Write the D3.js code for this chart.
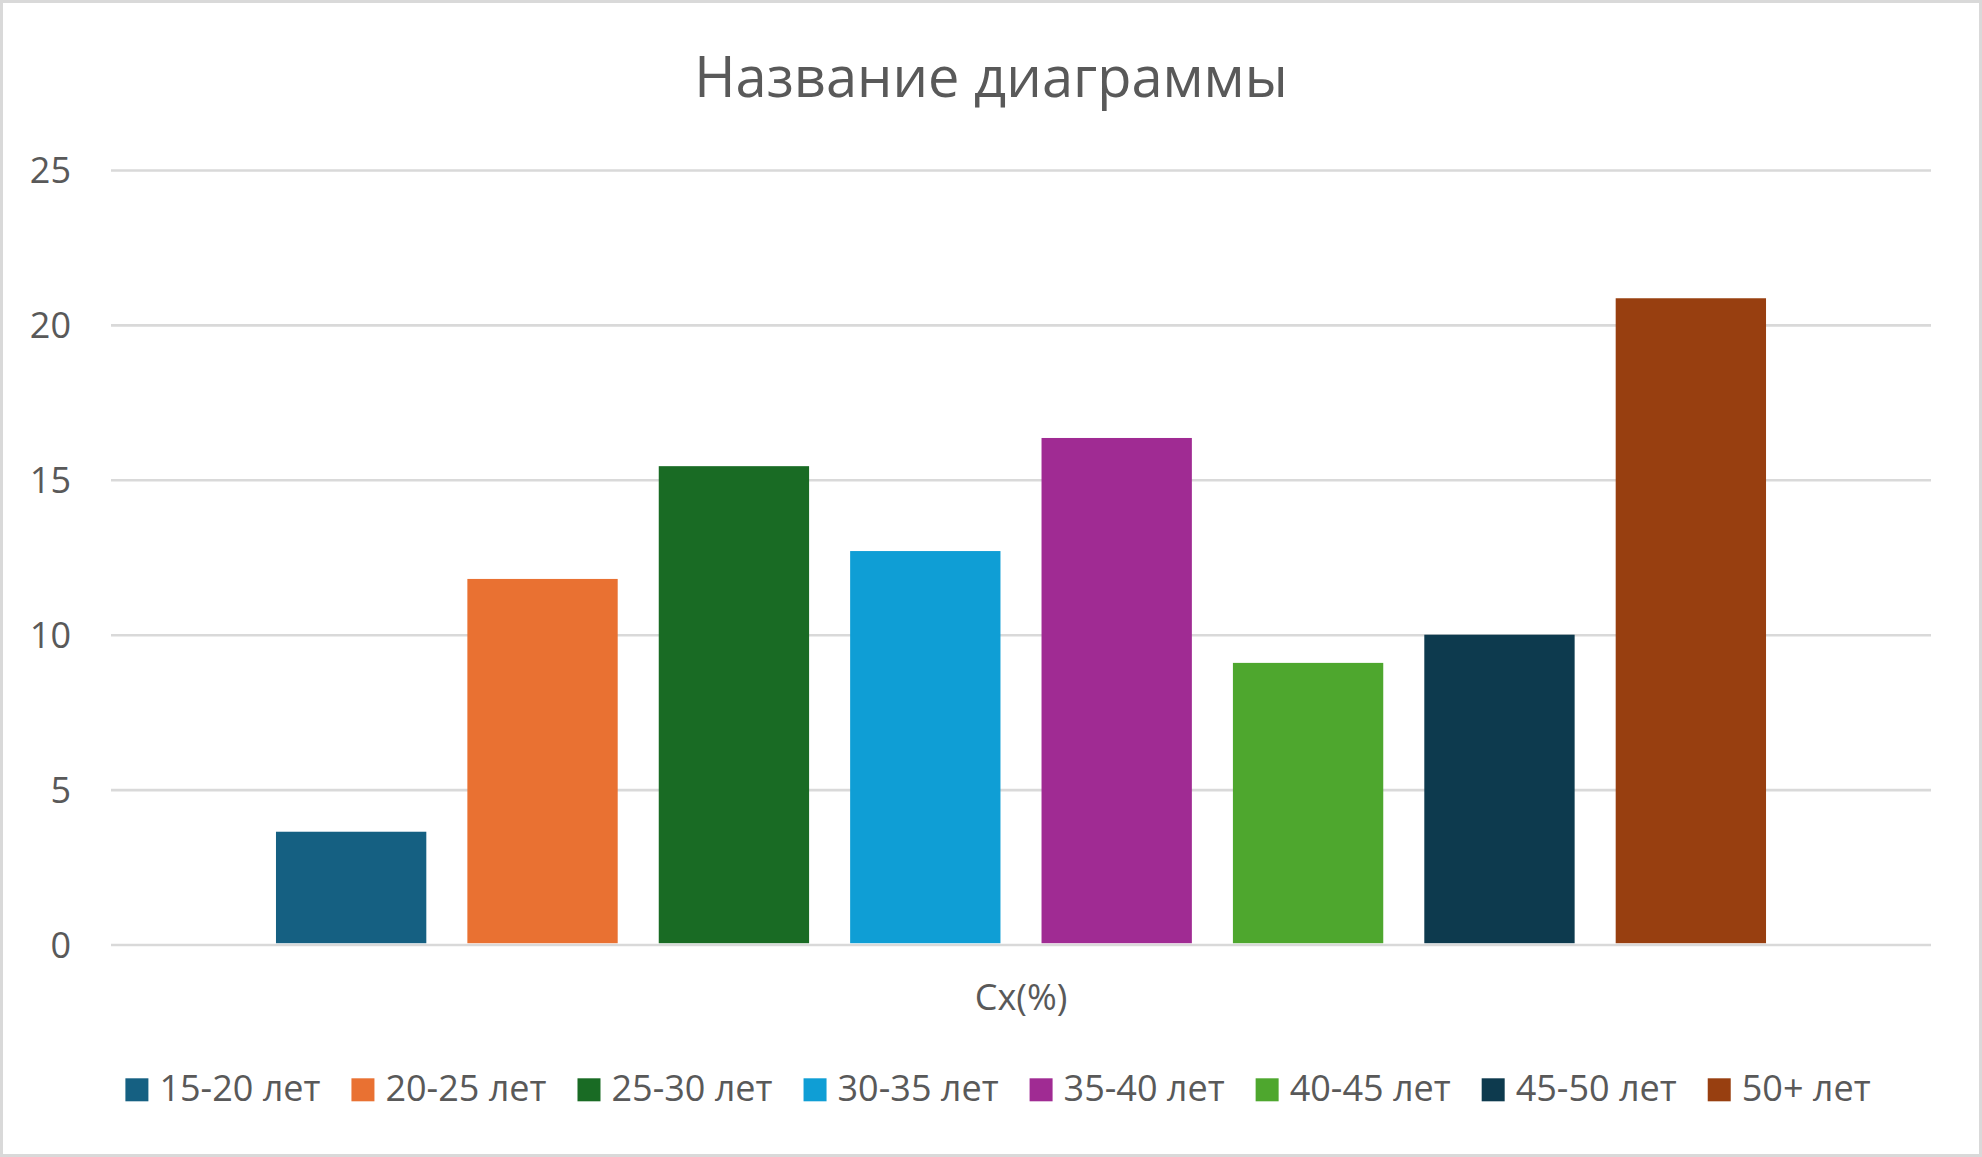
<!DOCTYPE html>
<html>
<head>
<meta charset="utf-8">
<script src="https://cdn.jsdelivr.net/npm/d3@7"></script>
<style>
  html, body { margin: 0; padding: 0; background: #fff; }
  svg { display: block; }
  text { font-family: "Open Sans", "Noto Sans", sans-serif; fill: #595959; }
</style>
</head>
<body>
<svg id="chart" width="1982" height="1157"></svg>
<script>
// ---- data ----
const title = "Название диаграммы";
const categories = ["Сх(%)"];
const series = ["15-20 лет", "20-25 лет", "25-30 лет", "30-35 лет", "35-40 лет", "40-45 лет", "45-50 лет", "50+ лет"];
const values = [3.64, 11.8, 15.44, 12.7, 16.35, 9.09, 10.0, 20.86];
const colors = ["#156082", "#E97132", "#196B24", "#0F9ED5", "#A02B93", "#4EA72E", "#0D3A4E", "#983F10"];
const yTicks = [0, 5, 10, 15, 20, 25];

// ---- layout ----
const W = 1982, H = 1157;
const plot = { left: 111, right: 1931, top: 170, bottom: 944.5 };
const svg = d3.select("#chart");

svg.append("rect")
  .attr("x", 1.5).attr("y", 1.5)
  .attr("width", W - 3).attr("height", H - 3)
  .attr("fill", "#fff").attr("stroke", "#d9d9d9").attr("stroke-width", 3);

const y = d3.scaleLinear().domain([0, 25]).range([plot.bottom, plot.top]);
const x0 = d3.scaleBand().domain(categories).range([plot.left, plot.right]).padding(0);
const x1 = d3.scaleBand().domain(series)
  .range([x0(categories[0]), x0(categories[0]) + x0.bandwidth()])
  .paddingInner(0.2145).paddingOuter(0.862);

// title
svg.append("text")
  .attr("x", W / 2).attr("y", 96.5)
  .attr("text-anchor", "middle")
  .style("font-size", "56px")
  .text(title);

// y axis with gridlines
const yAxis = d3.axisLeft(y).tickValues(yTicks).tickSize(-(plot.right - plot.left)).tickPadding(40);
const gy = svg.append("g").attr("transform", `translate(${plot.left},0)`).call(yAxis);
gy.select(".domain").remove();
gy.selectAll(".tick line").attr("stroke", "#d9d9d9").attr("stroke-width", 2.6);
gy.selectAll(".tick text").style("font-size", "36px").attr("fill", "#595959")
  .attr("dy", "0.35em");

// bars
svg.append("g").selectAll("rect")
  .data(series.map((s, i) => ({ s, v: values[i], c: colors[i] })))
  .join("rect")
  .attr("x", d => x1(d.s))
  .attr("y", d => y(d.v))
  .attr("width", x1.bandwidth())
  .attr("height", d => y(0) - y(d.v) - 1.3)
  .attr("fill", d => d.c);

// x axis (category label)
const xAxis = d3.axisBottom(x0).tickSize(0).tickPadding(0);
const gx = svg.append("g").attr("transform", `translate(0,${plot.bottom})`).call(xAxis);
gx.select(".domain").remove();
gx.selectAll(".tick text").attr("y", 65.5).attr("dy", null)
  .style("font-size", "36px").attr("fill", "#595959");

// legend
const lg = svg.append("g");
const sq = 23, gapSq = 11, gapItem = 31;
const items = lg.selectAll("g").data(series).join("g");
items.append("rect").attr("width", sq).attr("height", sq).attr("y", 1078.3)
  .attr("fill", (d, i) => colors[i]);
items.append("text").attr("x", sq + gapSq).attr("y", 1101)
  .style("font-size", "36px").text(d => d);
let cx = 0;
const offs = [];
items.each(function () {
  const w = d3.select(this).select("text").node().getComputedTextLength();
  offs.push(cx);
  cx += sq + gapSq + w + gapItem;
});
const total = cx - gapItem;
const startX = 998 - total / 2;
items.attr("transform", (d, i) => `translate(${startX + offs[i]},0)`);
</script>
</body>
</html>
